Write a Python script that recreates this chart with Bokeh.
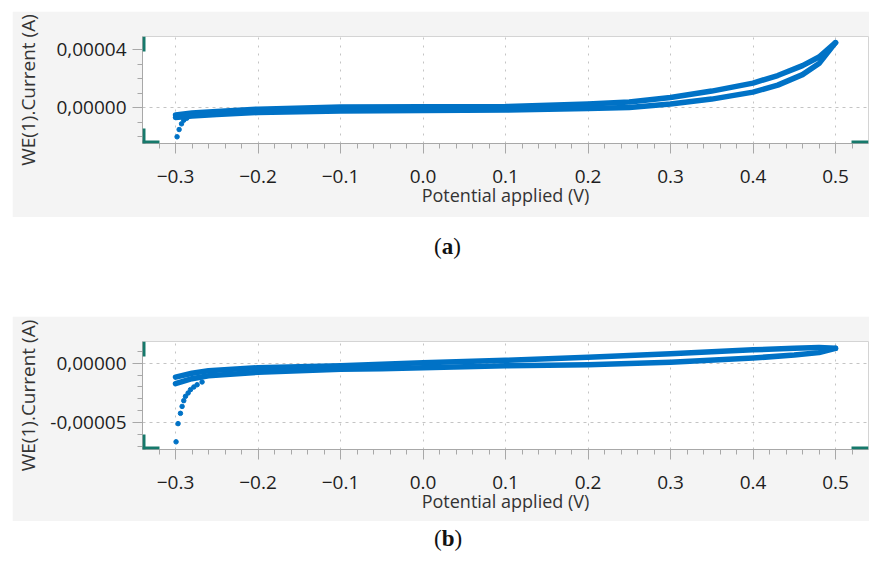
from bokeh.plotting import figure
from bokeh.models import FixedTicker, CustomJSTickFormatter, Range1d, Div, BoxAnnotation
from bokeh.layouts import column
from bokeh.embed import file_html
from bokeh.resources import INLINE

# ---------------- data ----------------
x_major = [-0.3, -0.2, -0.1, 0.0, 0.1, 0.2, 0.3, 0.4, 0.5]
x_minor = [-0.32, -0.28, -0.26, -0.24, -0.22, -0.18, -0.16, -0.14, -0.12,
           -0.08, -0.06, -0.04, -0.02, 0.02, 0.04, 0.06, 0.08,
           0.12, 0.14, 0.16, 0.18, 0.22, 0.24, 0.26, 0.28,
           0.32, 0.34, 0.36, 0.38, 0.42, 0.44, 0.46, 0.48, 0.52]

# panel (a)
a_y_major = [0.0, 4e-5]
a_y_minor = [-2e-5, -1e-5, 1e-5, 2e-5, 3e-5]
a_upper_v = [-0.30, -0.28, -0.25, -0.20, -0.10, 0.00, 0.10, 0.20, 0.25, 0.30, 0.35, 0.40, 0.43, 0.46, 0.48, 0.50]
a_upper_i = [-4.9e-6, -3.6e-6, -2.5e-6, -0.9e-6, 0.5e-6, 0.7e-6, 0.9e-6, 2.6e-6, 4.0e-6, 7.1e-6, 1.15e-5, 1.70e-5, 2.22e-5, 2.90e-5, 3.49e-5, 4.48e-5]
a_lower_v = [-0.30, -0.28, -0.25, -0.20, -0.10, 0.00, 0.10, 0.20, 0.25, 0.30, 0.35, 0.40, 0.43, 0.46, 0.48, 0.50]
a_lower_i = [-6.7e-6, -5.6e-6, -4.6e-6, -3.2e-6, -2.2e-6, -1.85e-6, -1.5e-6, -0.5e-6, 0.2e-6, 2.6e-6, 6.0e-6, 1.08e-5, 1.56e-5, 2.28e-5, 3.04e-5, 4.48e-5]
a_start_v = [-0.2981, -0.2956, -0.2927, -0.2900, -0.2863]
a_start_i = [-1.99e-5, -1.49e-5, -1.10e-5, -0.85e-5, -0.71e-5]

# panel (b)
b_y_major = [-5e-5, 0.0]
b_y_minor = [-7e-5, -6e-5, -4e-5, -3e-5, -2e-5, -1e-5, 1e-5]
b_upper_v = [-0.30, -0.28, -0.26, -0.20, -0.10, -0.05, 0.00, 0.10, 0.20, 0.30, 0.40, 0.45, 0.48, 0.50]
b_upper_i = [-1.18e-5, -0.85e-5, -0.64e-5, -3.9e-6, -2.2e-6, -1.0e-6, 0.2e-6, 2.3e-6, 4.8e-6, 7.7e-6, 1.11e-5, 1.23e-5, 1.29e-5, 1.23e-5]
b_lower_v = [-0.30, -0.28, -0.26, -0.20, -0.10, -0.05, 0.00, 0.10, 0.20, 0.30, 0.40, 0.45, 0.48, 0.50]
b_lower_i = [-1.72e-5, -1.31e-5, -1.06e-5, -7.7e-6, -5.2e-6, -4.7e-6, -3.9e-6, -2.2e-6, -1.5e-6, 0.7e-6, 4.2e-6, 6.7e-6, 8.7e-6, 1.23e-5]
b_start_v = [-0.2993, -0.2969, -0.2940, -0.2920, -0.2900, -0.2879, -0.2847, -0.2818, -0.2778, -0.2738, -0.2678]
b_start_i = [-6.58e-5, -5.06e-5, -4.20e-5, -3.62e-5, -3.14e-5, -2.78e-5, -2.50e-5, -2.22e-5, -2.00e-5, -1.81e-5, -1.58e-5]

X_RANGE = (-0.34, 0.54)
A_Y_RANGE = (-2.45e-5, 4.9e-5)
B_Y_RANGE = (-7.22e-5, 1.8e-5)

BLUE = "#0072c6"
TEAL = "#16796b"
FONT = "Open Sans"
LEFT = 12


def make_panel(y_range, y_major, y_minor, y_grid, upper, lower, start, height,
               border_bottom, label_standoff, top_margin):
    p = figure(width=857, height=height,
               x_range=Range1d(*X_RANGE), y_range=Range1d(*y_range),
               output_backend="svg", toolbar_location=None,
               min_border_left=129, min_border_right=1, min_border_top=25,
               min_border_bottom=border_bottom,
               background_fill_color="white", border_fill_color="#f4f4f4",
               outline_line_color="#d4d4d4", margin=(top_margin, 0, 0, LEFT))

    # axes
    p.xaxis.ticker = FixedTicker(ticks=x_major, minor_ticks=x_minor)
    p.yaxis.ticker = FixedTicker(ticks=y_major, minor_ticks=y_minor)
    p.xaxis.formatter = CustomJSTickFormatter(
        code="return (tick < -1e-9 ? '\u2212' : '') + Math.abs(tick).toFixed(1);")
    p.yaxis.formatter = CustomJSTickFormatter(
        code="return tick.toFixed(5).replace('.', ',');")
    for ax in (p.xaxis[0], p.yaxis[0]):
        ax.axis_line_color = "#a8a8a8"
        ax.major_tick_line_color = "#a8a8a8"
        ax.minor_tick_line_color = "#a8a8a8"
        ax.major_tick_in = 0
        ax.major_tick_out = 10
        ax.minor_tick_in = 0
        ax.minor_tick_out = 5
        ax.major_label_text_font = FONT
        ax.major_label_text_font_size = "19px"
        ax.major_label_text_color = "#1e1e1e"
        ax.axis_label_text_font = FONT
        ax.axis_label_text_font_style = "normal"
        ax.axis_label_text_color = "#333333"
    p.xaxis.axis_label = "Potential applied (V)"
    p.xaxis.axis_label_text_font_size = "18px"
    p.xaxis.major_label_standoff = 16
    p.xaxis.axis_label_standoff = -3
    p.yaxis.axis_label = "WE(1).Current (A)"
    p.yaxis.axis_label_text_font_size = "19px"
    p.yaxis.major_label_standoff = 6
    p.yaxis.axis_label_standoff = label_standoff

    # grid
    p.xgrid.ticker = FixedTicker(ticks=x_major)
    p.ygrid.ticker = FixedTicker(ticks=y_grid)
    p.xgrid.grid_line_color = "#c4c4c4"
    p.xgrid.grid_line_dash = "2 6"
    p.ygrid.grid_line_color = "#c4c4c4"
    p.ygrid.grid_line_dash = "3 4"

    # data
    for v, i in (upper, lower):
        p.line(v, i, line_color=BLUE, line_width=5.5, line_cap="round", line_join="round")
    p.scatter(start[0], start[1], size=4.5, fill_color=BLUE, line_color=BLUE)

    # teal range handles at the axes ends
    x0, x1 = X_RANGE
    y0, y1 = y_range
    fw, fh = 727.0, float(height - 25 - border_bottom)
    dx = (x1 - x0) / fw
    dy = (y1 - y0) / fh
    handles = [
        (x0, x0 + 3 * dx, y1 - 15 * dy, y1),
        (x0, x0 + 3 * dx, y0, y0 + 15 * dy),
        (x0, x0 + 17 * dx, y0, y0 + 3 * dy),
        (x1 - 17 * dx, x1, y0, y0 + 3 * dy),
    ]
    for l, r, b, t in handles:
        p.add_layout(BoxAnnotation(left=l, right=r, bottom=b, top=t,
                                   fill_color=TEAL, fill_alpha=1.0,
                                   line_color=None, level="overlay"))
    return p


pa = make_panel(A_Y_RANGE, a_y_major, a_y_minor, [0.0],
                (a_upper_v, a_upper_i), (a_lower_v, a_lower_i),
                (a_start_v, a_start_i), 206, 74, 12, 11)
pb = make_panel(B_Y_RANGE, b_y_major, b_y_minor, b_y_major,
                (b_upper_v, b_upper_i), (b_lower_v, b_lower_i),
                (b_start_v, b_start_i), 205, 72, 6, 0)

cap_style = {"font-family": "Liberation Serif, serif", "font-size": "23px",
             "color": "#111111", "padding-left": "422px", "line-height": "26px"}
cap_a = Div(text="(<b>a</b>)", width=857, height=99,
            styles=dict(cap_style, **{"padding-top": "17px"}), margin=(0, 0, 0, LEFT))
cap_b = Div(text="(<b>b</b>)", width=857, height=36,
            styles=dict(cap_style, **{"padding-top": "5px"}), margin=(0, 0, 0, LEFT))

layout = column(pa, cap_a, pb, cap_b, spacing=0)
open("out.html", "w").write(file_html(layout, INLINE))
